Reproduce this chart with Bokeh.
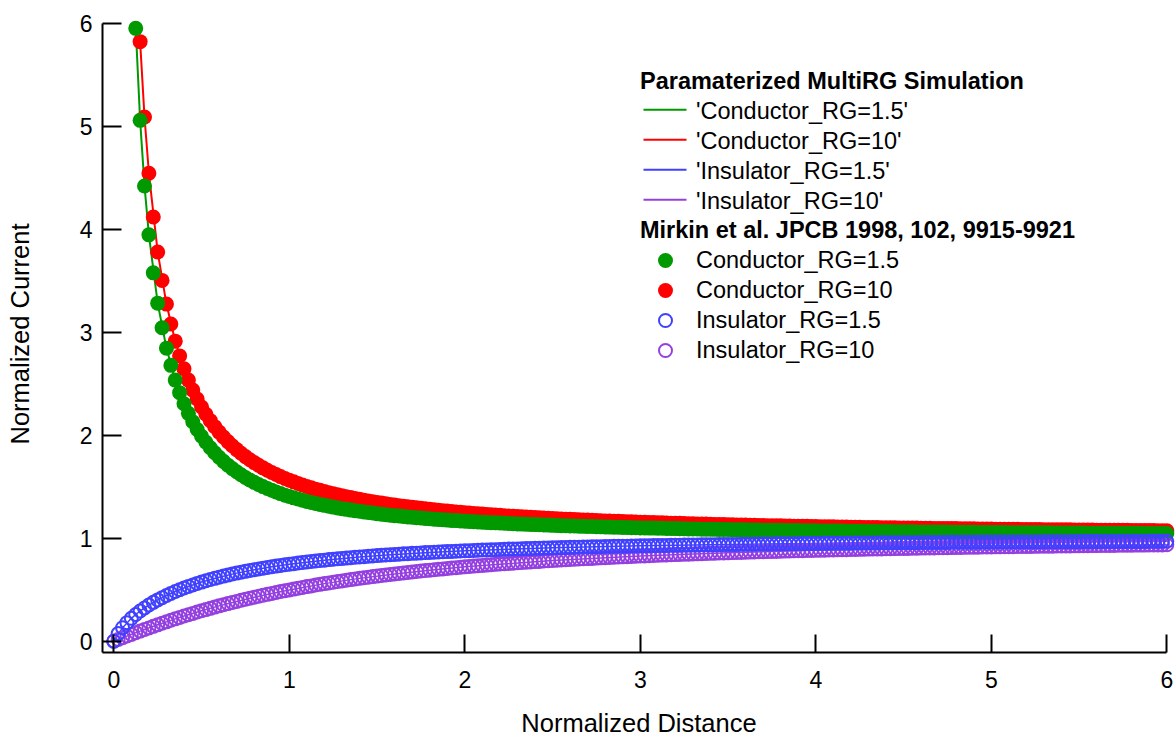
from bokeh.plotting import figure
from bokeh.models import Range1d, FixedTicker
from bokeh.core.properties import value
from bokeh.embed import file_html
from bokeh.resources import INLINE

FONT = "Liberation Sans"

# ---------------------------------------------------------------- data
# normalized tip-substrate distance L of the reference points
distance = [
    0.0, 0.025, 0.05, 0.075, 0.1, 0.125, 0.15, 0.175, 0.2, 0.225,
    0.25, 0.275, 0.3, 0.325, 0.35, 0.375, 0.4, 0.425, 0.45, 0.475,
    0.5, 0.525, 0.55, 0.575, 0.6, 0.625, 0.65, 0.675, 0.7, 0.725,
    0.75, 0.775, 0.8, 0.825, 0.85, 0.875, 0.9, 0.925, 0.95, 0.975,
    1.0,
    1.025, 1.05, 1.075, 1.1, 1.125, 1.15, 1.175, 1.2, 1.225, 1.25,
    1.275, 1.3, 1.325, 1.35, 1.375, 1.4, 1.425, 1.45, 1.475, 1.5,
    1.525, 1.55, 1.575, 1.6, 1.625, 1.65, 1.675, 1.7, 1.725, 1.75,
    1.775, 1.8, 1.825, 1.85, 1.875, 1.9, 1.925, 1.95, 1.975, 2.0,
    2.025, 2.05, 2.075, 2.1, 2.125, 2.15, 2.175, 2.2, 2.225, 2.25,
    2.275, 2.3, 2.325, 2.35, 2.375, 2.4, 2.425, 2.45, 2.475, 2.5,
    2.525, 2.55, 2.575, 2.6, 2.625, 2.65, 2.675, 2.7, 2.725, 2.75,
    2.775, 2.8, 2.825, 2.85, 2.875, 2.9, 2.925, 2.95, 2.975, 3.0,
    3.025, 3.05, 3.075, 3.1, 3.125, 3.15, 3.175, 3.2, 3.225, 3.25,
    3.275, 3.3, 3.325, 3.35, 3.375, 3.4, 3.425, 3.45, 3.475, 3.5,
    3.525, 3.55, 3.575, 3.6, 3.625, 3.65, 3.675, 3.7, 3.725, 3.75,
    3.775, 3.8, 3.825, 3.85, 3.875, 3.9, 3.925, 3.95, 3.975, 4.0,
    4.025, 4.05, 4.075, 4.1, 4.125, 4.15, 4.175, 4.2, 4.225, 4.25,
    4.275, 4.3, 4.325, 4.35, 4.375, 4.4, 4.425, 4.45, 4.475, 4.5,
    4.525, 4.55, 4.575, 4.6, 4.625, 4.65, 4.675, 4.7, 4.725, 4.75,
    4.775, 4.8, 4.825, 4.85, 4.875, 4.9, 4.925, 4.95, 4.975, 5.0,
    5.025, 5.05, 5.075, 5.1, 5.125, 5.15, 5.175, 5.2, 5.225, 5.25,
    5.275, 5.3, 5.325, 5.35, 5.375, 5.4, 5.425, 5.45, 5.475, 5.5,
    5.525, 5.55, 5.575, 5.6, 5.625, 5.65, 5.675, 5.7, 5.725, 5.75,
    5.775, 5.8, 5.825, 5.85, 5.875, 5.9, 5.925, 5.95, 5.975, 6.0,
]

# Mirkin et al. reference currents
# (conductor RG=1.5 starts at L=0.125, conductor RG=10 at L=0.15)
mirkin_cond_rg15 = [
    5.950, 5.057, 4.420, 3.945, 3.576, 3.282, 3.043, 2.845, 2.678, 2.535,
    2.413, 2.306, 2.212, 2.130, 2.056, 1.990, 1.932, 1.878, 1.830, 1.786,
    1.746, 1.709, 1.676, 1.645, 1.616, 1.590, 1.565, 1.542, 1.521, 1.501,
    1.482, 1.465, 1.448, 1.433, 1.418, 1.405,
    1.392, 1.380, 1.368, 1.357, 1.347, 1.337, 1.328, 1.319, 1.310, 1.302,
    1.294, 1.287, 1.280, 1.273, 1.267, 1.261, 1.255, 1.249, 1.244, 1.238,
    1.233, 1.228, 1.224, 1.219, 1.215, 1.211, 1.207, 1.203, 1.199, 1.196,
    1.192, 1.189, 1.185, 1.182, 1.179, 1.176, 1.173, 1.171, 1.168, 1.165,
    1.163, 1.160, 1.158, 1.155, 1.153, 1.151, 1.149, 1.147, 1.145, 1.143,
    1.141, 1.139, 1.137, 1.135, 1.133, 1.132, 1.130, 1.128, 1.127, 1.125,
    1.124, 1.122, 1.121, 1.119, 1.118, 1.117, 1.115, 1.114, 1.113, 1.112,
    1.110, 1.109, 1.108, 1.107, 1.106, 1.105, 1.104, 1.102, 1.101, 1.100,
    1.099, 1.098, 1.098, 1.097, 1.096, 1.095, 1.094, 1.093, 1.092, 1.091,
    1.090, 1.090, 1.089, 1.088, 1.087, 1.087, 1.086, 1.085, 1.084, 1.084,
    1.083, 1.082, 1.082, 1.081, 1.080, 1.080, 1.079, 1.078, 1.078, 1.077,
    1.077, 1.076, 1.075, 1.075, 1.074, 1.074, 1.073, 1.073, 1.072, 1.072,
    1.071, 1.071, 1.070, 1.070, 1.069, 1.069, 1.068, 1.068, 1.067, 1.067,
    1.066, 1.066, 1.065, 1.065, 1.065, 1.064, 1.064, 1.063, 1.063, 1.063,
    1.062, 1.062, 1.061, 1.061, 1.061, 1.060, 1.060, 1.060, 1.059, 1.059,
    1.058, 1.058, 1.058, 1.057, 1.057, 1.057, 1.056, 1.056, 1.056, 1.055,
    1.055, 1.055, 1.055, 1.054, 1.054, 1.054, 1.053, 1.053, 1.053, 1.052,
    1.052, 1.052, 1.052, 1.051, 1.051, 1.051, 1.051, 1.050, 1.050, 1.050,
    1.050, 1.049, 1.049, 1.049, 1.049, 1.048, 1.048, 1.048, 1.048, 1.047,
    1.047, 1.047, 1.047, 1.047, 1.046, 1.046, 1.046, 1.046, 1.045, 1.045,
]
mirkin_cond_rg10 = [
    5.821, 5.090, 4.543, 4.118, 3.779, 3.503, 3.273, 3.079, 2.913, 2.770,
    2.645, 2.535, 2.438, 2.352, 2.274, 2.204, 2.141, 2.083, 2.030, 1.982,
    1.938, 1.897, 1.860, 1.825, 1.792, 1.762, 1.734, 1.708, 1.683, 1.660,
    1.638, 1.618, 1.598, 1.580, 1.563,
    1.547, 1.531, 1.517, 1.502, 1.489, 1.476, 1.465, 1.453, 1.442, 1.431,
    1.422, 1.412, 1.403, 1.394, 1.385, 1.377, 1.369, 1.362, 1.355, 1.347,
    1.341, 1.334, 1.328, 1.322, 1.316, 1.311, 1.305, 1.300, 1.295, 1.290,
    1.285, 1.280, 1.276, 1.272, 1.267, 1.263, 1.259, 1.255, 1.252, 1.248,
    1.244, 1.241, 1.238, 1.234, 1.231, 1.228, 1.225, 1.222, 1.219, 1.216,
    1.214, 1.211, 1.208, 1.206, 1.203, 1.201, 1.199, 1.196, 1.194, 1.192,
    1.190, 1.187, 1.185, 1.183, 1.181, 1.179, 1.177, 1.176, 1.174, 1.172,
    1.170, 1.168, 1.167, 1.165, 1.164, 1.162, 1.160, 1.159, 1.157, 1.156,
    1.154, 1.153, 1.152, 1.150, 1.149, 1.148, 1.146, 1.145, 1.144, 1.142,
    1.141, 1.140, 1.139, 1.138, 1.137, 1.135, 1.134, 1.133, 1.132, 1.131,
    1.130, 1.129, 1.128, 1.127, 1.126, 1.125, 1.124, 1.123, 1.122, 1.121,
    1.121, 1.120, 1.119, 1.118, 1.117, 1.116, 1.115, 1.115, 1.114, 1.113,
    1.112, 1.112, 1.111, 1.110, 1.109, 1.109, 1.108, 1.107, 1.106, 1.106,
    1.105, 1.104, 1.104, 1.103, 1.102, 1.102, 1.101, 1.101, 1.100, 1.099,
    1.099, 1.098, 1.098, 1.097, 1.096, 1.096, 1.095, 1.095, 1.094, 1.094,
    1.093, 1.093, 1.092, 1.092, 1.091, 1.091, 1.090, 1.090, 1.089, 1.089,
    1.088, 1.088, 1.087, 1.087, 1.086, 1.086, 1.085, 1.085, 1.084, 1.084,
    1.084, 1.083, 1.083, 1.082, 1.082, 1.082, 1.081, 1.081, 1.080, 1.080,
    1.080, 1.079, 1.079, 1.078, 1.078, 1.078, 1.077, 1.077, 1.077, 1.076,
    1.076, 1.075, 1.075, 1.075, 1.074, 1.074, 1.074, 1.073, 1.073, 1.073,
]
mirkin_ins_rg15 = [
    0.000, 0.074, 0.131, 0.180, 0.222, 0.259, 0.293, 0.323, 0.351, 0.377,
    0.401, 0.423, 0.444, 0.464, 0.482, 0.500, 0.516, 0.532, 0.546, 0.561,
    0.574, 0.587, 0.599, 0.610, 0.621, 0.632, 0.642, 0.652, 0.661, 0.670,
    0.678, 0.687, 0.694, 0.702, 0.709, 0.716, 0.723, 0.729, 0.736, 0.742,
    0.747,
    0.753, 0.759, 0.764, 0.769, 0.774, 0.778, 0.783, 0.787, 0.792, 0.796,
    0.800, 0.804, 0.807, 0.811, 0.815, 0.818, 0.821, 0.825, 0.828, 0.831,
    0.834, 0.837, 0.840, 0.842, 0.845, 0.848, 0.850, 0.853, 0.855, 0.857,
    0.860, 0.862, 0.864, 0.866, 0.868, 0.870, 0.872, 0.874, 0.876, 0.878,
    0.879, 0.881, 0.883, 0.885, 0.886, 0.888, 0.889, 0.891, 0.892, 0.894,
    0.895, 0.896, 0.898, 0.899, 0.900, 0.902, 0.903, 0.904, 0.905, 0.907,
    0.908, 0.909, 0.910, 0.911, 0.912, 0.913, 0.914, 0.915, 0.916, 0.917,
    0.918, 0.919, 0.920, 0.921, 0.922, 0.922, 0.923, 0.924, 0.925, 0.926,
    0.926, 0.927, 0.928, 0.929, 0.930, 0.930, 0.931, 0.932, 0.932, 0.933,
    0.934, 0.934, 0.935, 0.936, 0.936, 0.937, 0.937, 0.938, 0.939, 0.939,
    0.940, 0.940, 0.941, 0.941, 0.942, 0.942, 0.943, 0.943, 0.944, 0.944,
    0.945, 0.945, 0.946, 0.946, 0.947, 0.947, 0.948, 0.948, 0.949, 0.949,
    0.949, 0.950, 0.950, 0.951, 0.951, 0.951, 0.952, 0.952, 0.953, 0.953,
    0.953, 0.954, 0.954, 0.954, 0.955, 0.955, 0.955, 0.956, 0.956, 0.956,
    0.957, 0.957, 0.957, 0.958, 0.958, 0.958, 0.959, 0.959, 0.959, 0.959,
    0.960, 0.960, 0.960, 0.961, 0.961, 0.961, 0.961, 0.962, 0.962, 0.962,
    0.962, 0.963, 0.963, 0.963, 0.963, 0.964, 0.964, 0.964, 0.964, 0.964,
    0.965, 0.965, 0.965, 0.965, 0.966, 0.966, 0.966, 0.966, 0.966, 0.967,
    0.967, 0.967, 0.967, 0.967, 0.968, 0.968, 0.968, 0.968, 0.968, 0.969,
    0.969, 0.969, 0.969, 0.969, 0.969, 0.970, 0.970, 0.970, 0.970, 0.970,
]
mirkin_ins_rg10 = [
    0.000, 0.017, 0.034, 0.050, 0.066, 0.083, 0.098, 0.114, 0.129, 0.144,
    0.159, 0.174, 0.188, 0.203, 0.217, 0.230, 0.244, 0.257, 0.270, 0.283,
    0.295, 0.307, 0.319, 0.331, 0.343, 0.354, 0.365, 0.376, 0.386, 0.397,
    0.407, 0.417, 0.427, 0.436, 0.446, 0.455, 0.464, 0.473, 0.482, 0.490,
    0.498,
    0.506, 0.514, 0.522, 0.530, 0.537, 0.545, 0.552, 0.559, 0.565, 0.572,
    0.579, 0.585, 0.592, 0.598, 0.604, 0.610, 0.616, 0.621, 0.627, 0.632,
    0.638, 0.643, 0.648, 0.653, 0.658, 0.663, 0.668, 0.672, 0.677, 0.681,
    0.686, 0.690, 0.694, 0.698, 0.702, 0.707, 0.710, 0.714, 0.718, 0.722,
    0.725, 0.729, 0.732, 0.736, 0.739, 0.743, 0.746, 0.749, 0.752, 0.755,
    0.758, 0.761, 0.764, 0.767, 0.770, 0.773, 0.775, 0.778, 0.781, 0.783,
    0.786, 0.788, 0.791, 0.793, 0.795, 0.798, 0.800, 0.802, 0.804, 0.807,
    0.809, 0.811, 0.813, 0.815, 0.817, 0.819, 0.821, 0.823, 0.825, 0.827,
    0.828, 0.830, 0.832, 0.834, 0.836, 0.837, 0.839, 0.841, 0.842, 0.844,
    0.845, 0.847, 0.848, 0.850, 0.851, 0.853, 0.854, 0.856, 0.857, 0.858,
    0.860, 0.861, 0.862, 0.864, 0.865, 0.866, 0.868, 0.869, 0.870, 0.871,
    0.872, 0.874, 0.875, 0.876, 0.877, 0.878, 0.879, 0.880, 0.881, 0.882,
    0.883, 0.884, 0.885, 0.886, 0.887, 0.888, 0.889, 0.890, 0.891, 0.892,
    0.893, 0.894, 0.895, 0.896, 0.896, 0.897, 0.898, 0.899, 0.900, 0.901,
    0.901, 0.902, 0.903, 0.904, 0.905, 0.905, 0.906, 0.907, 0.907, 0.908,
    0.909, 0.910, 0.910, 0.911, 0.912, 0.912, 0.913, 0.914, 0.914, 0.915,
    0.916, 0.916, 0.917, 0.917, 0.918, 0.919, 0.919, 0.920, 0.920, 0.921,
    0.922, 0.922, 0.923, 0.923, 0.924, 0.924, 0.925, 0.925, 0.926, 0.926,
    0.927, 0.927, 0.928, 0.928, 0.929, 0.929, 0.930, 0.930, 0.931, 0.931,
    0.932, 0.932, 0.933, 0.933, 0.933, 0.934, 0.934, 0.935, 0.935, 0.936,
]

# parameterized multi-RG simulation curves
sim_distance = [
    0.0, 0.05, 0.1, 0.125, 0.15, 0.175, 0.2, 0.25, 0.3, 0.35,
    0.4, 0.5, 0.6, 0.7, 0.8, 0.9, 1.0, 1.2, 1.4, 1.6,
    1.8, 2.0, 2.5, 3.0, 3.5, 4.0, 4.5, 5.0, 5.5, 6.0,
]
# conductor RG=1.5 starts at L=0.125, conductor RG=10 at L=0.15
sim_cond_rg15 = [
    5.950, 5.057, 4.420, 3.945, 3.282, 2.845, 2.535, 2.306, 1.990, 1.786,
    1.645, 1.542, 1.465, 1.405, 1.319, 1.261, 1.219, 1.189, 1.165, 1.125,
    1.100, 1.084, 1.072, 1.063, 1.055, 1.050, 1.045,
]
sim_cond_rg10 = [
    5.821, 5.090, 4.543, 3.779, 3.273, 2.913, 2.645, 2.274, 2.030,
    1.860, 1.734, 1.638, 1.563, 1.453, 1.377, 1.322, 1.280, 1.248, 1.192,
    1.156, 1.131, 1.113, 1.099, 1.089, 1.080, 1.073,
]
sim_ins_rg15 = [
    0.000, 0.131, 0.222, 0.259, 0.293, 0.323, 0.351, 0.401, 0.444, 0.482,
    0.516, 0.574, 0.621, 0.661, 0.694, 0.723, 0.747, 0.787, 0.818, 0.842,
    0.862, 0.878, 0.907, 0.926, 0.939, 0.949, 0.956, 0.962, 0.967, 0.970,
]
sim_ins_rg10 = [
    0.000, 0.034, 0.066, 0.083, 0.098, 0.114, 0.129, 0.159, 0.188, 0.217,
    0.244, 0.295, 0.343, 0.386, 0.427, 0.464, 0.498, 0.559, 0.610, 0.653,
    0.690, 0.722, 0.783, 0.827, 0.858, 0.882, 0.901, 0.915, 0.926, 0.936,
]

x_ticks = [0, 1, 2, 3, 4, 5, 6]
y_ticks = [0, 1, 2, 3, 4, 5, 6]

series_names = ["Conductor_RG=1.5", "Conductor_RG=10",
                "Insulator_RG=1.5", "Insulator_RG=10"]
series_colors = ["#009900", "#ff0000", "#4040ff", "#9440e0"]
sim_title = "Paramaterized MultiRG Simulation"
ref_title = "Mirkin et al. JPCB 1998, 102, 9915-9921"

ref_x = [distance[5:], distance[6:], distance, distance]
ref_y = [mirkin_cond_rg15, mirkin_cond_rg10, mirkin_ins_rg15, mirkin_ins_rg10]
sim_x = [sim_distance[3:], sim_distance[4:], sim_distance, sim_distance]
sim_y = [sim_cond_rg15, sim_cond_rg10, sim_ins_rg15, sim_ins_rg10]
for xs, ys in list(zip(ref_x, ref_y)) + list(zip(sim_x, sim_y)):
    assert len(xs) == len(ys), (len(xs), len(ys))

# ---------------------------------------------------------------- layout
W, H = 1175, 740
FRAME_L, FRAME_R, FRAME_T, FRAME_B = 102, 1175, 15, 652
X0_PX, X_PER_UNIT = 113.3, 175.5      # pixel of x=0, pixels per unit
Y0_PX, Y_PER_UNIT = 640.7, 103.0      # pixel of y=0, pixels per unit


def px_to_x(px):
    return (px - X0_PX) / X_PER_UNIT


def py_to_y(py):
    return (Y0_PX - py) / Y_PER_UNIT


p = figure(
    width=W, height=H, output_backend="svg", toolbar_location=None,
    x_range=Range1d(px_to_x(FRAME_L), px_to_x(FRAME_R)),
    y_range=Range1d(py_to_y(FRAME_B), py_to_y(FRAME_T)),
    min_border_left=FRAME_L, min_border_right=W - FRAME_R,
    min_border_top=FRAME_T, min_border_bottom=H - FRAME_B,
)
p.outline_line_color = None
p.background_fill_color = "white"
p.border_fill_color = "white"
p.xgrid.visible = False
p.ygrid.visible = False

for ax in (p.xaxis, p.yaxis):
    ax.axis_line_width = 2
    ax.axis_line_color = "black"
    ax.major_tick_line_width = 2
    ax.major_tick_line_color = "black"
    ax.major_tick_out = 0
    ax.minor_tick_line_color = None
    ax.major_label_text_font = FONT
    ax.major_label_text_font_size = "23px"
    ax.major_label_text_color = "black"
    ax.axis_label_text_font = FONT
    ax.axis_label_text_font_size = "25.5px"
    ax.axis_label_text_font_style = "normal"
    ax.axis_label_text_color = "black"

p.xaxis.ticker = FixedTicker(ticks=x_ticks)
p.yaxis.ticker = FixedTicker(ticks=y_ticks)
p.xaxis.bounds = (px_to_x(FRAME_L), x_ticks[-1])
p.yaxis.bounds = (py_to_y(FRAME_B), y_ticks[-1])
p.xaxis.major_tick_in = 18
p.yaxis.major_tick_in = 19
p.xaxis.major_label_standoff = 18
p.yaxis.major_label_standoff = 10

p.xaxis.axis_label = "Normalized Distance"
p.xaxis.axis_label_standoff = 18
p.yaxis.axis_label = "Normalized Current"
p.yaxis.axis_label_standoff = 43

# ---------------------------------------------------------------- curves
draw_order = [1, 0, 3, 2]
for i in draw_order:
    p.line(sim_x[i], sim_y[i], line_color=series_colors[i],
           line_width=2 if i < 2 else 1.5)

for i in draw_order:
    if i < 2:
        p.scatter(ref_x[i], ref_y[i], marker="circle", size=15,
                  fill_color=series_colors[i], line_color=None)
    else:
        p.scatter(ref_x[i], ref_y[i], marker="circle", size=13,
                  fill_color=None, line_color=series_colors[i], line_width=2)

# ---------------------------------------------------------------- legend
TITLE_X, LABEL_X = 639.5, 695.5
SAMPLE_X0, SAMPLE_X1, MARK_X = 643, 686, 665
ROW = 30

legend_texts, legend_tx, legend_ty = [], [], []
bold_texts = [sim_title, ref_title]
bold_tx = [px_to_x(TITLE_X)] * 2
bold_ty = [py_to_y(80.0), py_to_y(229.8)]

for k, name in enumerate(series_names):
    # simulation entries (quoted names) with line samples
    legend_texts.append("'" + name + "'")
    legend_tx.append(px_to_x(LABEL_X))
    legend_ty.append(py_to_y(110.3 + ROW * k))
    ly = py_to_y(109.3 + ROW * k)
    p.line([px_to_x(SAMPLE_X0), px_to_x(SAMPLE_X1)], [ly, ly],
           line_color=series_colors[k], line_width=2)

    # reference entries with markers
    legend_texts.append(name)
    legend_tx.append(px_to_x(LABEL_X))
    legend_ty.append(py_to_y(259.8 + ROW * k))
    my = py_to_y(260 + ROW * k)
    if k < 2:
        p.scatter([px_to_x(MARK_X)], [my], marker="circle", size=15,
                  fill_color=series_colors[k], line_color=None)
    else:
        p.scatter([px_to_x(MARK_X)], [my], marker="circle", size=13,
                  fill_color=None, line_color=series_colors[k], line_width=2)

p.text(x=bold_tx, y=bold_ty, text=bold_texts, text_font=value(FONT),
       text_font_size="23.5px", text_font_style="bold", text_color="black",
       text_align="left", text_baseline="middle")
p.text(x=legend_tx, y=legend_ty, text=legend_texts, text_font=value(FONT),
       text_font_size="23.5px", text_color="black",
       text_align="left", text_baseline="middle")

open("out.html", "w").write(file_html(p, INLINE))
